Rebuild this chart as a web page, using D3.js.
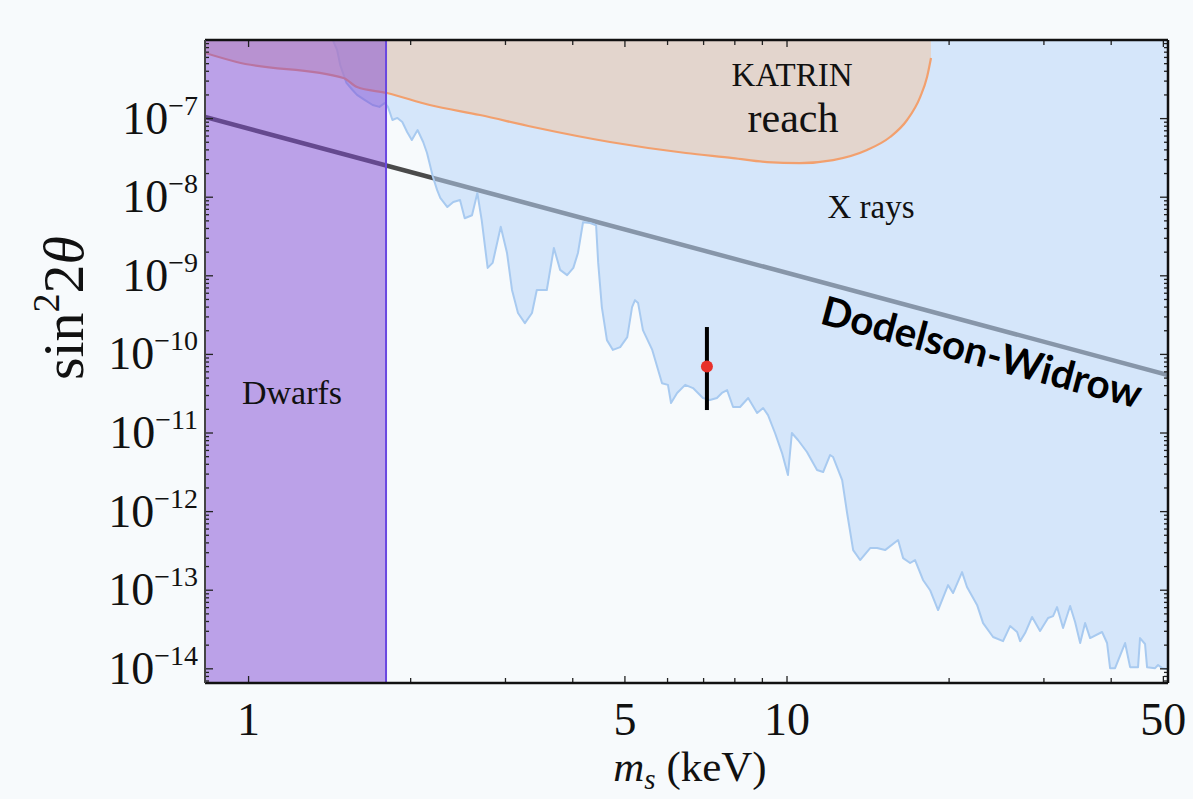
<!DOCTYPE html>
<html><head><meta charset="utf-8">
<script src="https://cdn.jsdelivr.net/npm/d3@7"></script>
<style>
html,body{margin:0;padding:0;background:#f7fafc;}
svg{display:block;}
</style></head><body>
<svg id="chart" width="1193" height="799"></svg>
<script>
// ---------- data ----------
const xrayMass = [1.42,1.46,1.48,1.52,1.56,1.59,1.645,1.70,1.75,1.79,
  1.815,1.85,1.89,1.93,1.97,2.01,2.06,2.11,2.145,2.20,
  2.24,2.27,2.34,2.40,2.47,2.52,2.60,2.66,2.71,2.78,
  2.84,2.94,3.02,3.085,3.165,3.26,3.36,3.43,3.58,3.69,
  3.79,3.905,4.01,4.09,4.18,4.31,4.42,4.46,4.53,4.63,
  4.75,4.90,5.05,5.155,5.22,5.29,5.40,5.62,5.86,6.01,
  6.09,6.25,6.47,6.69,6.98,7.19,7.41,7.57,7.74,7.94,
  8.18,8.47,8.80,9.03,9.22,9.50,9.79,10.04,10.21,10.48,
  10.89,11.37,11.67,12.02,12.18,12.66,12.93,13.27,13.67,14.27,
  14.70,15.21,16.08,16.43,16.93,17.29,17.89,18.44,19.08,19.91,
  20.34,21.14,21.59,22.54,23.13,24.14,25.19,25.96,26.75,27.10,
  27.68,28.52,29.51,30.54,31.20,31.73,32.56,33.56,34.28,35.03,
  35.78,36.55,38.47,39.30,39.81,40.67,42.45,43.37,44.87,45.25,
  46.23,46.63,48.26,48.88,49.72,51.0];
const xraySin = [1.16e-6,7.5e-7,4.8e-7,2.84e-7,2.31e-7,2.0e-7,1.72e-7,1.49e-7,1.41e-7,1.58e-7,
  1.41e-7,9.6e-8,1.02e-7,9.05e-8,6.75e-8,5.34e-8,7.16e-8,5.04e-8,3.65e-8,1.81e-8,
  1.23e-8,9.8e-9,7.5e-9,8.7e-9,9.2e-9,5.4e-9,5.9e-9,1.13e-8,5.1e-9,1.26e-9,
  1.46e-9,4.2e-9,1.95e-9,6.6e-10,3.36e-10,2.5e-10,3.36e-10,6.6e-10,6.6e-10,2.26e-9,
  1.19e-9,1.02e-9,1.26e-9,1.95e-9,4.8e-9,4.7e-9,4.4e-9,1.46e-9,4.0e-10,1.52e-10,
  1.14e-10,1.24e-10,1.66e-10,4.0e-10,4.9e-10,4.5e-10,2.04e-10,1.14e-10,4.3e-11,4.1e-11,
  2.41e-11,3.23e-11,4.1e-11,3.73e-11,2.79e-11,2.63e-11,2.79e-11,3.23e-11,3.52e-11,2.14e-11,
  2.14e-11,2.79e-11,1.8e-11,2.08e-11,1.69e-11,1.0e-11,5.56e-12,2.92e-12,1.0e-11,8.15e-12,
  5.73e-12,3.38e-12,3.19e-12,5.25e-12,4.95e-12,2.52e-12,9.6e-13,3.24e-13,2.42e-13,3.44e-13,
  3.44e-13,3.24e-13,4.35e-13,2.56e-13,2.22e-13,2.42e-13,1.35e-13,1.0e-13,5.6e-14,1.16e-13,
  9.2e-14,1.7e-13,1.1e-13,6.5e-14,3.82e-14,2.54e-14,2.25e-14,3.5e-14,2.94e-14,2.25e-14,
  2.85e-14,4.56e-14,3.03e-14,4.43e-14,4.69e-14,6.1e-14,3.3e-14,6.3e-14,3.94e-14,2.13e-14,
  3.82e-14,2.46e-14,2.94e-14,2.13e-14,1.02e-14,1.02e-14,2.13e-14,1.05e-14,1.05e-14,2.46e-14,
  2.07e-14,1.05e-14,1.02e-14,1.12e-14,1.02e-14,9.9e-15];

const katrinMass = [0.83,0.95,1.50,1.59,1.807,2.17,2.69,3.375,4.69,6.49,7.94,9.18,10.57,12.18,14.08,15.54,16.71,17.67,18.20,18.51];
const katrinSin  = [6.84e-7,5.25e-7,3.28e-7,2.52e-7,2.12e-7,1.49e-7,1.11e-7,7.82e-8,5.04e-8,3.65e-8,3.15e-8,2.8e-8,2.72e-8,2.97e-8,3.99e-8,5.83e-8,9.6e-8,1.88e-7,3.38e-7,5.9e-7];

const dwMass = [0.83, 51];
const dwSin  = [1.05e-7, 5.47e-11];

const dwarfLimit = 1.8;

const lineMass = [7.1];
const lineSin  = [7.0e-11];
const lineLo   = [1.96e-11];
const lineHi   = [2.23e-10];

const xDomain = [0.83, 51];
const yDomain = [6.6e-15, 1e-6];
const xTickLabels = [1, 5, 10, 50];
const xTickValues = [1,2,3,4,5,6,7,8,9,10,20,30,40,50];
const yTickExps = [-7,-8,-9,-10,-11,-12,-13,-14];

// ---------- layout ----------
const L = 205, R = 1168, T = 40, B = 683;
const svg = d3.select("#chart");
const serif = "'Liberation Serif','Times New Roman',serif";

const x = d3.scaleLog().domain(xDomain).range([L, R]);
const y = d3.scaleLog().domain(yDomain).range([B, T]);

svg.append("rect").attr("width",1193).attr("height",799).attr("fill","#f7fafc");

const defs = svg.append("defs");
defs.append("clipPath").attr("id","plotclip").append("rect")
  .attr("x",L).attr("y",T).attr("width",R-L).attr("height",B-T);

const g = svg.append("g").attr("clip-path","url(#plotclip)");

// Dodelson-Widrow line (under the fills)
const dwData = dwMass.map((m,i)=>[m, dwSin[i]]);
g.append("path")
  .attr("d", d3.line().x(d=>x(d[0])).y(d=>y(d[1]))(dwData))
  .attr("fill","none").attr("stroke","#4a4a4a").attr("stroke-width",4.5);

// X-ray excluded region
const xray = xrayMass.map((m,i)=>[m, xraySin[i]]);
const xrayPoly = xray.concat([[xrayMass[xrayMass.length-1], 1e-5],[xrayMass[0], 1e-5]]);
g.append("path")
  .attr("d", d3.line().x(d=>x(d[0])).y(d=>y(d[1]))(xrayPoly) + "Z")
  .attr("fill","rgb(186,213,248)").attr("fill-opacity",0.55).attr("stroke","none");
g.append("path")
  .attr("d", d3.line().x(d=>x(d[0])).y(d=>y(d[1]))(xray))
  .attr("fill","none").attr("stroke","#a8caf0").attr("stroke-width",2).attr("stroke-linejoin","round");

// KATRIN reach
const kat = katrinMass.map((m,i)=>[m, katrinSin[i]]);
const katCurve = d3.line().x(d=>x(d[0])).y(d=>y(d[1])).curve(d3.curveMonotoneX);
const katTop = 2e-6;
g.append("path")
  .attr("d", katCurve(kat)
        + "L" + x(katrinMass[katrinMass.length-1]) + "," + y(katTop)
        + "L" + x(katrinMass[0]) + "," + y(katTop) + "Z")
  .attr("fill","rgb(237,201,175)").attr("fill-opacity",0.6).attr("stroke","none");
g.append("path")
  .attr("d", katCurve(kat))
  .attr("fill","none").attr("stroke","#f2a06e").attr("stroke-width",2.2);

// Dwarfs region
g.append("rect")
  .attr("x", x(xDomain[0])).attr("y", T)
  .attr("width", x(dwarfLimit) - x(xDomain[0])).attr("height", B - T)
  .attr("fill","rgb(128,72,212)").attr("fill-opacity",0.5);
g.append("line")
  .attr("x1", x(dwarfLimit)).attr("x2", x(dwarfLimit)).attr("y1", T).attr("y2", B)
  .attr("stroke","#6a48e0").attr("stroke-width",2);

// 3.5 keV line point
lineMass.forEach((m,i)=>{
  g.append("line").attr("x1",x(m)).attr("x2",x(m))
    .attr("y1",y(lineHi[i])).attr("y2",y(lineLo[i]))
    .attr("stroke","#000").attr("stroke-width",4);
  g.append("circle").attr("cx",x(m)).attr("cy",y(lineSin[i])).attr("r",6)
    .attr("fill","#e8312b");
});

// ---------- axes / ticks ----------
const yMinor = [];
for (let e=-15; e<=-6; e++) for (let k=1; k<=9; k++){
  const v = k*Math.pow(10,e);
  if (v>=yDomain[0] && v<=yDomain[1]) yMinor.push(v);
}
const isMajorY = v => Math.abs(Math.log10(v) - Math.round(Math.log10(v))) < 1e-6;
const isMajorX = v => xTickLabels.includes(v);

const ticks = svg.append("g").attr("stroke","#222").attr("stroke-width",1.3);
xTickValues.forEach(v=>{
  const len = isMajorX(v) ? 7 : 5;
  ticks.append("line").attr("x1",x(v)).attr("x2",x(v)).attr("y1",B).attr("y2",B-len);
  ticks.append("line").attr("x1",x(v)).attr("x2",x(v)).attr("y1",T).attr("y2",T+len);
});
yMinor.forEach(v=>{
  const len = isMajorY(v) ? 8 : 4;
  ticks.append("line").attr("x1",L).attr("x2",L+len).attr("y1",y(v)).attr("y2",y(v));
  ticks.append("line").attr("x1",R).attr("x2",R-len).attr("y1",y(v)).attr("y2",y(v));
});

// frame
svg.append("line").attr("x1",L).attr("x2",R).attr("y1",T).attr("y2",T).attr("stroke","#111").attr("stroke-width",2.5);
svg.append("line").attr("x1",L).attr("x2",R).attr("y1",B).attr("y2",B).attr("stroke","#111").attr("stroke-width",2.5);
svg.append("line").attr("x1",R).attr("x2",R).attr("y1",T).attr("y2",B).attr("stroke","#111").attr("stroke-width",2.5);
svg.append("line").attr("x1",L).attr("x2",L).attr("y1",T).attr("y2",B).attr("stroke","#444").attr("stroke-width",2);

// x tick labels
xTickLabels.forEach(v=>{
  svg.append("text").attr("x",x(v)).attr("y",735).attr("text-anchor","middle")
    .attr("font-family",serif).attr("font-size",46).attr("fill","#111").text(v);
});
// y tick labels
yTickExps.forEach(e=>{
  const t = svg.append("text").attr("x",198).attr("y",y(Math.pow(10,e))+15)
    .attr("text-anchor","end").attr("font-family",serif).attr("fill","#111");
  t.append("tspan").attr("font-size",46).text("10");
  t.append("tspan").attr("font-size",28).attr("dy",-19).text("\u2212"+Math.abs(e));
});

// axis titles
const xt = svg.append("text").attr("x",690).attr("y",781).attr("text-anchor","middle")
  .attr("font-family",serif).attr("font-size",43).attr("fill","#111");
xt.append("tspan").attr("font-style","italic").text("m");
xt.append("tspan").attr("font-style","italic").attr("font-size",29).attr("dy",8).text("s");
xt.append("tspan").attr("dy",-8).text(" (keV)");

const yt = svg.append("text").attr("transform","translate(83,308) rotate(-90)")
  .attr("text-anchor","middle").attr("font-family",serif).attr("font-size",58).attr("fill","#111");
yt.append("tspan").text("sin");
yt.append("tspan").attr("font-size",38).attr("dy",-24).text("2");
yt.append("tspan").attr("dy",24).text("2");
yt.append("tspan").attr("font-style","italic").text("\u03b8");

// region labels
const lab = (txt, cx, cy, size) => svg.append("text").attr("x",cx).attr("y",cy)
  .attr("text-anchor","middle").attr("font-family",serif).attr("font-size",size)
  .attr("fill","#111").text(txt);
lab("KATRIN", 792, 86, 33);
lab("reach", 793, 132, 42);
lab("X rays", 871, 218, 33);
lab("Dwarfs", 292, 404, 34);

const dw = svg.append("text")
  .attr("transform","translate(978,366) rotate(15)")
  .attr("text-anchor","middle").attr("font-family","Lato, 'Open Sans', sans-serif")
  .attr("font-weight",700).attr("font-size",40).attr("fill","#000").text("Dodelson-Widrow");
const w = dw.node().getComputedTextLength();
dw.attr("font-size", 40*330/w);
</script>
</body></html>
